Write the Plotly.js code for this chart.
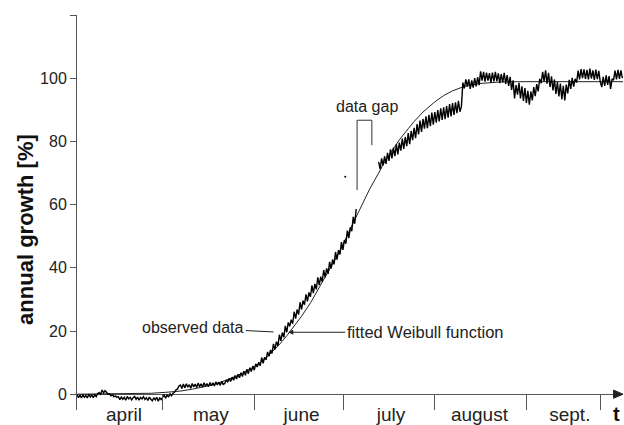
<!DOCTYPE html>
<html>
<head>
<meta charset="utf-8">
<script src="https://cdn.plot.ly/plotly-3.0.1.min.js"></script>
<style>html,body{margin:0;padding:0;background:#fff;}#chart{width:624px;height:425px;}</style>
</head>
<body>
<div id="chart"></div>
<script>
// x axis: days since 1 April
const monthNames = ['april', 'may', 'june', 'july', 'august', 'sept.'];
const monthMid = [16.8, 46.2, 76.9, 107.2, 137.1, 167.7];
const monthEdges = [30, 61, 91, 122, 153, 178];
const yTickVals = [0, 20, 40, 60, 80, 100, 120];
const yTickText = ['0', '20', '40', '60', '80', '100', ''];

// observed data, first part (before the gap): starts day 0.9, every 0.5 day
const obsStartA = 0.9;
const obsStepA = 0.5;
const obsA = [
  -0.1,-1.1,-0.3,-1.2,-0.2,-1.0,-0.4,-1.2,0.0,-0.9,-0.3,-1.1,-0.2,-0.8,
  0.2,0.5,0.0,1.3,0.4,1.1,
  0.6,0.0,0.1,-0.5,-0.2,-0.8,-0.5,-1.0,
  -0.8,-1.7,-0.9,-1.6,-1.0,-1.9,-0.7,-1.5,-1.0,-1.8,-1.1,-0.7,-1.6,-0.9,-1.9,-1.0,-1.5,-0.8,-1.7,-1.1,-2.0,-0.9,-1.6,-2.1,-1.1,-1.8,-1.0,-2.2,-1.2,-1.7,
  -0.9,-0.3,-1.3,-0.2,-0.9,0.1,-0.5,0.3,
  0.6,1.4,1.6,2.6,
  2.9,1.8,3.2,2.0,3.3,2.2,3.0,1.9,3.4,2.3,3.2,2.1,3.5,2.4,3.3,2.2,3.6,2.5,3.4,2.4,3.7,2.7,3.6,2.6,3.9,2.9,3.8,2.8,4.1,3.1,
  3.4,4.5,3.8,5.0,4.0,5.4,4.4,5.9,4.8,6.3,5.2,6.8,5.6,7.3,6.0,7.9,6.5,8.4,
  7.2,8.9,7.6,9.6,8.6,10.1,9.0,11.6,9.8,11.7,10.9,13.4,
  12.0,14.0,12.9,15.9,14.1,16.6,15.3,18.8,16.9,19.5,18.0,21.6,
  19.6,22.7,21.5,23.6,22.3,26.1,23.9,26.8,25.2,29.1,26.8,29.6,
  28.3,31.6,29.4,32.2,30.8,34.4,32.0,34.9,33.2,37.0,34.5,37.2,
  35.6,39.3,37.0,39.8,38.1,41.9,39.7,42.6,41.1,45.0,42.6,45.6,
  44.2,48.1,45.7,48.8,47.6,51.8,49.4,52.8,51.6,56.1,54.0,58.6
];

// isolated observation inside the gap
const strayDay = [91.7];
const strayVal = [68.8];

// observed data, second part (after the gap): starts day 103, every 0.5 day
const obsStartB = 103;
const obsStepB = 0.5;
const obsB = [
  73.5,71.2,74.6,72.4,75.3,72.9,76.4,73.8,77.5,74.6,78.0,75.3,79.1,75.9,79.6,77.1,
  80.9,77.6,81.4,78.5,82.6,79.1,83.3,80.4,84.3,81.0,85.5,82.2,86.6,83.0,87.1,84.0,
  87.9,84.2,88.4,84.8,89.1,85.3,89.3,85.9,89.9,86.3,90.5,86.8,90.8,87.0,91.2,87.5,
  91.8,87.9,92.1,88.4,92.4,88.9,92.8,89.4,91.0,98.6,
  96.8,99.6,97.3,99.6,96.6,99.3,97.0,100.0,97.4,100.3,97.8,102.2,
  99.2,102.0,98.9,101.8,99.2,101.6,98.6,101.8,99.0,102.0,99.1,101.5,98.4,101.3,98.7,101.7,
  98.2,101.0,97.6,100.4,96.3,99.3,93.6,97.8,94.8,98.5,93.6,97.4,92.8,96.9,92.2,96.0,
  91.6,95.8,93.0,97.2,94.3,98.1,95.8,99.8,98.4,102.0,99.0,102.5,98.3,101.7,97.2,100.6,
  96.1,99.6,95.0,98.8,94.2,98.3,93.3,97.6,93.0,98.0,95.2,99.5,96.6,100.1,97.3,99.8,
  98.6,102.4,99.6,102.9,100.0,102.8,99.8,102.6,99.6,103.0,99.9,102.5,99.5,102.7,99.7,102.3,
  98.9,97.2,100.4,97.6,100.9,97.9,100.7,96.6,99.8,99.4,102.4,99.6,102.6,99.8,102.5,100.0
];

// fitted Weibull function
const fitDay = [1, 20, 26, 31, 36, 40, 43, 47, 51, 55, 60, 63, 66, 69, 72, 75, 77, 80, 83, 86, 90, 93, 95, 98, 100, 103, 105, 108, 110, 113, 115, 118, 122, 125, 128, 132, 137, 144, 150, 186];
const fitVal = [0, 0.1, 0.3, 0.6, 1.0, 1.6, 2.1, 3.0, 4.3, 5.8, 8.2, 10.0, 12.5, 15.3, 18.6, 22.2, 24.8, 29.0, 34.0, 39.0, 45.5, 51.5, 55.5, 61.5, 65.0, 70.0, 73.5, 77.7, 80.5, 84.0, 86.3, 89.3, 92.5, 94.5, 96.0, 97.4, 98.3, 98.8, 98.9, 98.9];

const FONT = 'Liberation Sans, Arial, Helvetica, sans-serif';

const traces = [
  {x: fitDay, y: fitVal, type: 'scatter', mode: 'lines', line: {color: '#222', width: 1}, hoverinfo: 'skip'},
  {x0: obsStartA, dx: obsStepA, y: obsA, type: 'scatter', mode: 'lines', line: {color: '#000', width: 1.4}, hoverinfo: 'skip'},
  {x: strayDay, y: strayVal, type: 'scatter', mode: 'markers', marker: {color: '#000', size: 2}, hoverinfo: 'skip'},
  {x0: obsStartB, dx: obsStepB, y: obsB, type: 'scatter', mode: 'lines', line: {color: '#000', width: 1.4}, hoverinfo: 'skip'}
];

const layout = {
  width: 624, height: 425,
  margin: {l: 77, r: 1, t: 15, b: 15, pad: 0},
  paper_bgcolor: '#fff', plot_bgcolor: '#fff',
  showlegend: false,
  font: {family: FONT, color: '#222'},
  xaxis: {
    range: [0.9, 185.7],
    tickmode: 'array', tickvals: monthMid, ticktext: monthNames,
    ticks: '', showline: false, zeroline: false, showgrid: false,
    ticklabelstandoff: -9,
    tickfont: {size: 19, family: FONT, color: '#222'},
    minor: {tickmode: 'array', tickvals: monthEdges, ticks: 'inside', ticklen: 16, tickcolor: '#555', tickwidth: 1, showgrid: false}
  },
  yaxis: {
    range: [-5, 120],
    tickmode: 'array', tickvals: yTickVals, ticktext: yTickText,
    ticks: 'outside', ticklen: 6, tickcolor: '#555', tickwidth: 1,
    showline: true, linecolor: '#555', linewidth: 1,
    zeroline: true, zerolinecolor: '#555', zerolinewidth: 1,
    showgrid: false,
    tickfont: {size: 16, family: FONT, color: '#222'}
  },
  shapes: [
    {type: 'path', xref: 'x', yref: 'y', path: 'M 182.5 1.3 L 185.7 0 L 182.5 -1.3 Z', fillcolor: '#222', line: {color: '#222', width: 1}},
    {type: 'path', xref: 'x', yref: 'y', path: 'M 95.7 64.6 L 95.7 86.7 L 100.7 86.7 L 100.7 78.8', line: {color: '#333', width: 1}}
  ],
  annotations: [
    {x: -0.0934, y: 0.456, xref: 'paper', yref: 'paper', xanchor: 'center', yanchor: 'middle', textangle: -90, text: '<b>annual growth [%]</b>', showarrow: false, font: {size: 22, family: FONT, color: '#111'}},
    {x: 99.0, y: 91.2, xref: 'x', yref: 'y', text: 'data gap', showarrow: false, font: {size: 16, family: FONT, color: '#222'}},
    {x: 67.4, y: 19.7, xref: 'x', yref: 'y', text: 'observed data', showarrow: true, arrowhead: 0, arrowwidth: 1, arrowcolor: '#222', ax: -80, ay: -4, font: {size: 16, family: FONT, color: '#222'}},
    {x: 72.4, y: 19.6, xref: 'x', yref: 'y', text: 'fitted Weibull function', showarrow: true, arrowhead: 2, arrowsize: 1, arrowwidth: 1, arrowcolor: '#222', ax: 137, ay: 0, font: {size: 16.5, family: FONT, color: '#222'}},
    {x: 0.989, y: -0.01, xref: 'paper', yref: 'paper', xanchor: 'center', yanchor: 'middle', text: '<b>t</b>', showarrow: false, font: {size: 20, family: FONT, color: '#111'}}
  ]
};

Plotly.newPlot('chart', traces, layout, {staticPlot: true, displayModeBar: false});
</script>
</body>
</html>
